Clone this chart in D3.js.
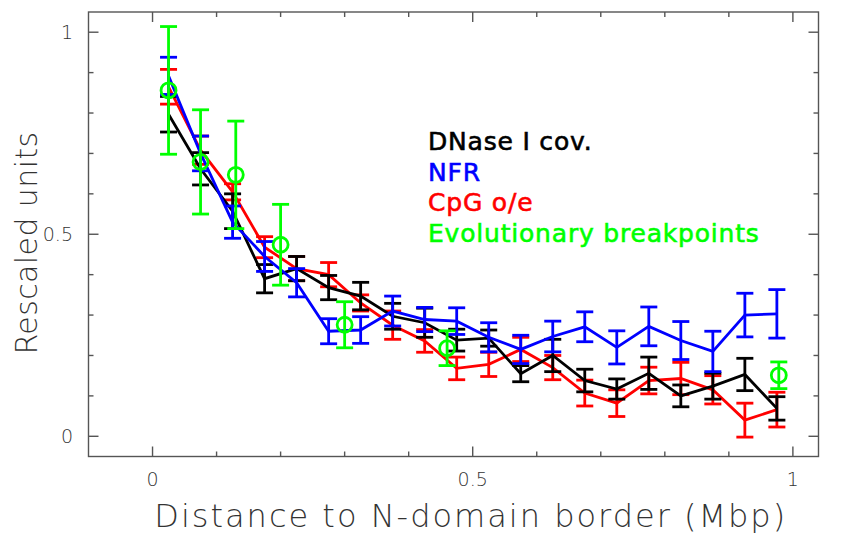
<!DOCTYPE html>
<html>
<head>
<meta charset="utf-8">
<script src="https://cdn.jsdelivr.net/npm/d3@7"></script>
<style>
  body { margin: 0; background: #fff; }
  svg { display: block; }
  .lbl { font-family: "DejaVu Sans", sans-serif; font-weight: 200; fill: #333; }
  .leg { font-family: "DejaVu Sans", sans-serif; }
</style>
</head>
<body>
<svg width="846" height="535"></svg>
<script>
// bin centres (Mbp)
const bins = [0.025, 0.075, 0.125, 0.175, 0.225, 0.275, 0.325, 0.375, 0.425, 0.475,
              0.525, 0.575, 0.625, 0.675, 0.725, 0.775, 0.825, 0.875, 0.925, 0.975];

const dnase    = [0.797, 0.662, 0.557, 0.39, 0.415, 0.368, 0.347, 0.297, 0.281, 0.238,
                  0.243, 0.155, 0.2, 0.138, 0.117, 0.156, 0.1, 0.124, 0.153, 0.069];
const dnaseErr = [0.044, 0.04, 0.043, 0.035, 0.03, 0.03, 0.034, 0.032, 0.036, 0.027,
                  0.02, 0.02, 0.04, 0.028, 0.025, 0.04, 0.027, 0.032, 0.04, 0.029];

const nfr    = [0.892, 0.70, 0.53, 0.445, 0.38, 0.26, 0.263, 0.31, 0.289, 0.285,
                0.245, 0.215, 0.247, 0.271, 0.22, 0.272, 0.237, 0.21, 0.30, 0.303];
const nfrErr = [0.046, 0.043, 0.04, 0.037, 0.035, 0.031, 0.033, 0.037, 0.03, 0.033,
                0.036, 0.035, 0.038, 0.037, 0.041, 0.048, 0.047, 0.05, 0.054, 0.06];

const cpg    = [0.865, 0.708, 0.605, 0.468, 0.415, 0.40, 0.33, 0.275, 0.236, 0.168,
                0.178, 0.215, 0.17, 0.107, 0.082, 0.138, 0.143, 0.115, 0.04, 0.066];
const cpgErr = [0.043, 0.035, 0.02, 0.026, 0.03, 0.03, 0.02, 0.035, 0.028, 0.028,
                0.03, 0.03, 0.03, 0.032, 0.033, 0.033, 0.04, 0.035, 0.042, 0.043];

// evolutionary breakpoints, own positions
const evoX   = [0.025, 0.075, 0.13, 0.2, 0.3, 0.46, 0.978];
const evo    = [0.856, 0.679, 0.647, 0.474, 0.276, 0.218, 0.151];
const evoErr = [0.158, 0.129, 0.133, 0.1, 0.057, 0.043, 0.033];

const legendNames = ["DNase I cov.", "NFR", "CpG o/e", "Evolutionary breakpoints"];
const colors = ["#000000", "#0000ff", "#ff0000", "#00ff00"];

const xTicks = [0, 0.5, 1];
const yTicks = [0, 0.5, 1];

const svg = d3.select("svg");

const x = d3.scaleLinear().domain([-0.1, 1.04]).range([88.5, 818.5]);
const y = d3.scaleLinear().domain([-0.05, 1.05]).range([456.5, 12]);

const frame = svg.append("g").attr("stroke", "#555").attr("stroke-width", 1.4);

frame.append("rect")
  .attr("x", x.range()[0]).attr("y", y.range()[1])
  .attr("width", x.range()[1] - x.range()[0])
  .attr("height", y.range()[0] - y.range()[1])
  .attr("fill", "none");

// inward ticks on all four sides
const xMinor = d3.range(0, 1.001, 0.1);
const yMinor = d3.range(0, 1.001, 0.1);
const isMajor = v => Math.abs(v * 2 - Math.round(v * 2)) < 1e-6;

xMinor.forEach(v => {
  const len = isMajor(v) ? 10 : 5;
  frame.append("line").attr("x1", x(v)).attr("x2", x(v))
    .attr("y1", y.range()[0]).attr("y2", y.range()[0] - len);
  frame.append("line").attr("x1", x(v)).attr("x2", x(v))
    .attr("y1", y.range()[1]).attr("y2", y.range()[1] + len);
});
yMinor.forEach(v => {
  const len = isMajor(v) ? 10 : 5;
  frame.append("line").attr("y1", y(v)).attr("y2", y(v))
    .attr("x1", x.range()[0]).attr("x2", x.range()[0] + len);
  frame.append("line").attr("y1", y(v)).attr("y2", y(v))
    .attr("x1", x.range()[1]).attr("x2", x.range()[1] - len);
});

// tick labels
svg.selectAll(".xt").data(xTicks).enter().append("text")
  .attr("class", "lbl")
  .attr("x", d => x(d)).attr("y", 486)
  .attr("text-anchor", "middle").attr("font-size", 19)
  .text(d => d3.format("")(d));

svg.selectAll(".yt").data(yTicks).enter().append("text")
  .attr("class", "lbl")
  .attr("x", 73).attr("y", d => y(d) + 7)
  .attr("text-anchor", "end").attr("font-size", 19)
  .text(d => d3.format("")(d));

svg.append("text").attr("class", "lbl")
  .attr("x", x(0.5) - 2).attr("y", 527)
  .attr("text-anchor", "middle").attr("font-size", 32)
  .attr("letter-spacing", 2)
  .text("Distance to N-domain border (Mbp)");

svg.append("text").attr("class", "lbl")
  .attr("transform", `translate(37,243) rotate(-90)`)
  .attr("text-anchor", "middle").attr("font-size", 30)
  .attr("letter-spacing", 0.4)
  .text("Rescaled units");

// series with error bars
const capW = 8.5;
function series(xs, vals, errs, color, withLine, circles) {
  const g = svg.append("g").attr("stroke", color).attr("fill", "none").attr("stroke-width", 2.8);
  const pts = xs.map((d, i) => ({ x: d, v: vals[i], e: errs[i] }));
  if (withLine) {
    g.append("path")
      .attr("d", d3.line().x(d => x(d.x)).y(d => y(d.v))(pts));
  }
  const bar = g.selectAll(".eb").data(pts).enter().append("g");
  bar.append("line")
    .attr("x1", d => x(d.x)).attr("x2", d => x(d.x))
    .attr("y1", d => y(d.v - d.e)).attr("y2", d => y(d.v + d.e));
  bar.append("line")
    .attr("x1", d => x(d.x) - capW).attr("x2", d => x(d.x) + capW)
    .attr("y1", d => y(d.v + d.e)).attr("y2", d => y(d.v + d.e));
  bar.append("line")
    .attr("x1", d => x(d.x) - capW).attr("x2", d => x(d.x) + capW)
    .attr("y1", d => y(d.v - d.e)).attr("y2", d => y(d.v - d.e));
  if (circles) {
    bar.append("circle")
      .attr("cx", d => x(d.x)).attr("cy", d => y(d.v)).attr("r", 7.5);
  }
}

series(bins, cpg, cpgErr, colors[2], true, false);
series(bins, dnase, dnaseErr, colors[0], true, false);
series(bins, nfr, nfrErr, colors[1], true, false);
series(evoX, evo, evoErr, colors[3], false, true);

// legend
svg.selectAll(".legend").data(legendNames).enter().append("text")
  .attr("class", "leg")
  .attr("x", 428).attr("y", (d, i) => 150 + i * 30.6)
  .attr("font-size", 25)
  .attr("letter-spacing", 0.8)
  .attr("fill", (d, i) => colors[i])
  .attr("stroke", (d, i) => colors[i])
  .attr("stroke-width", 0.6)
  .text(d => d);
</script>
</body>
</html>
